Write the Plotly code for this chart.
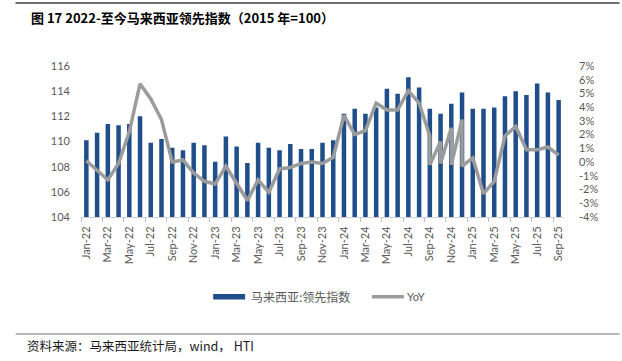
import plotly.graph_objects as go

months = ["Jan-22", "Feb-22", "Mar-22", "Apr-22", "May-22", "Jun-22", "Jul-22", "Aug-22", "Sep-22", "Oct-22", "Nov-22", "Dec-22",
          "Jan-23", "Feb-23", "Mar-23", "Apr-23", "May-23", "Jun-23", "Jul-23", "Aug-23", "Sep-23", "Oct-23", "Nov-23", "Dec-23",
          "Jan-24", "Feb-24", "Mar-24", "Apr-24", "May-24", "Jun-24", "Jul-24", "Aug-24", "Sep-24", "Oct-24", "Nov-24", "Dec-24",
          "Jan-25", "Feb-25", "Mar-25", "Apr-25", "May-25", "Jun-25", "Jul-25", "Aug-25", "Sep-25"]

leading_index = [110.1, 110.7, 111.4, 111.3, 111.4, 112.0, 109.9, 110.2, 109.5, 109.3, 109.9, 109.7,
                 108.4, 110.4, 109.6, 108.3, 109.9, 109.5, 109.3, 109.8, 109.4, 109.4, 109.9, 110.1,
                 112.2, 112.6, 112.2, 112.7, 114.2, 113.8, 115.1, 114.3, 112.6, 112.2, 113.0, 113.9,
                 112.6, 112.6, 112.7, 113.6, 114.0, 113.7, 114.6, 113.9, 113.3]

# YoY series (%); some months carry two readings in the source chart
yoy_x = ["Jan-22", "Feb-22", "Mar-22", "Apr-22", "May-22", "Jun-22", "Jul-22", "Aug-22", "Sep-22", "Oct-22", "Nov-22", "Dec-22",
         "Jan-23", "Feb-23", "Mar-23", "Apr-23", "May-23", "Jun-23", "Jul-23", "Aug-23", "Sep-23", "Oct-23", "Nov-23", "Dec-23",
         "Jan-24", "Feb-24", "Mar-24", "Apr-24", "May-24", "Jun-24", "Jul-24", "Aug-24",
         "Sep-24", "Sep-24", "Oct-24", "Oct-24", "Nov-24", "Nov-24", "Dec-24", "Dec-24",
         "Jan-25", "Feb-25", "Mar-25", "Apr-25", "May-25", "Jun-25", "Jul-25", "Aug-25", "Sep-25"]
yoy_y = [0.1, -0.6, -1.3, -0.1, 2.2, 5.7, 4.6, 3.1, 0.0, 0.15, -0.8, -1.4,
         -1.6, -0.3, -1.5, -2.8, -1.3, -2.2, -0.5, -0.4, -0.1, 0.0, -0.1, 0.35,
         3.4, 2.0, 2.3, 4.3, 3.8, 3.8, 5.2, 4.3,
         1.9, -0.2, 1.5, -0.1, 2.5, -0.2, 3.1, -0.3,
         0.3, -2.3, -1.4, 1.9, 2.6, 0.9, 0.9, 1.1, 0.5]

left_ticks = [104, 106, 108, 110, 112, 114, 116]
right_ticks = [-4, -3, -2, -1, 0, 1, 2, 3, 4, 5, 6, 7]
right_text = [f"{v}%" for v in right_ticks]

title_text = "图 17 2022-至今马来西亚领先指数（2015 年=100）"
source_text = "资料来源：马来西亚统计局，wind， HTI"
bar_name = "马来西亚:领先指数"
line_name = "YoY"

W, H = 622, 361
L, R, T, B = 80.6, 57.6, 66, 144
PW = W - L - R
PH = H - T - B


def px(x):
    return (x - L) / PW


def py(y):
    return (H - B - y) / PH


BLUE = "#1f4e8a"
GRAY = "#9b9b9b"
TXT = "#595959"

fig = go.Figure()
fig.add_trace(go.Bar(x=months, y=leading_index, name=bar_name, marker_color=BLUE,
                     marker_line_width=0, width=0.42, yaxis="y"))
fig.add_trace(go.Scatter(x=yoy_x, y=yoy_y, name=line_name, mode="lines",
                         line=dict(color=GRAY, width=3.5), yaxis="y2"))

fig.update_layout(
    width=W, height=H,
    margin=dict(l=L, r=R, t=T, b=B, pad=0),
    paper_bgcolor="white", plot_bgcolor="white",
    showlegend=False,
    font=dict(family="Lato", size=11, color=TXT),
    xaxis=dict(type="category", categoryorder="array", categoryarray=months,
               range=[-0.5, len(months) - 0.5],
               tickmode="linear", tick0=0, dtick=2, tickangle=-90,
               tickson="boundaries", ticks="outside", ticklen=4, tickcolor="#bfbfbf",
               showline=True, linecolor="#d0d0d0", linewidth=1,
               showgrid=False, ticklabelstandoff=4, automargin=False,
               tickfont=dict(family="Lato", size=11, color=TXT)),
    yaxis=dict(range=[104, 116], tickvals=left_ticks, showgrid=False, zeroline=False,
               showline=False, ticks="", ticklabelstandoff=10, automargin=False,
               tickfont=dict(family="Lato", size=11, color=TXT)),
    yaxis2=dict(range=[-4, 7], tickvals=right_ticks, ticktext=right_text, overlaying="y", side="right",
                showgrid=False, zeroline=False, showline=False, ticks="", ticklabelstandoff=14,
                automargin=False,
                tickfont=dict(family="Lato", size=11, color=TXT)),
    bargap=0.5,
)

shapes = [
    dict(type="rect", xref="paper", yref="paper", x0=px(15), x1=px(620), y0=py(4), y1=py(2),
         fillcolor="#6f6f6f", line=dict(width=0), layer="above"),
    dict(type="line", xref="paper", yref="paper", x0=px(15), x1=px(620), y0=py(334), y1=py(334),
         line=dict(color="#9f9f9f", width=1.5)),
    dict(type="rect", xref="paper", yref="paper", x0=px(213), x1=px(245), y0=py(299.5), y1=py(294),
         fillcolor=BLUE, line=dict(width=0)),
    dict(type="line", xref="paper", yref="paper", x0=px(372), x1=px(404), y0=py(296.7), y1=py(296.7),
         line=dict(color=GRAY, width=3.5)),
]
annotations = [
    dict(text=f"<b>{title_text}</b>", xref="paper", yref="paper", x=px(29), y=py(18),
         xanchor="left", yanchor="middle", showarrow=False,
         font=dict(family="Noto Sans CJK SC", size=13, color="#000000")),
    dict(text=source_text, xref="paper", yref="paper", x=px(25), y=py(345),
         xanchor="left", yanchor="middle", showarrow=False,
         font=dict(family="Noto Sans CJK SC", size=12.5, color="#1a1a1a")),
    dict(text=bar_name, xref="paper", yref="paper", x=px(249), y=py(296.7),
         xanchor="left", yanchor="middle", showarrow=False,
         font=dict(family="Noto Sans CJK SC", size=12, color=TXT)),
    dict(text=line_name, xref="paper", yref="paper", x=px(405), y=py(296.7),
         xanchor="left", yanchor="middle", showarrow=False,
         font=dict(family="Lato", size=11, color=TXT)),
]
fig.update_layout(shapes=shapes, annotations=annotations)

fig.write_html("out.html", config={"displayModeBar": False},
               post_script="document.body.style.margin='0';document.body.style.overflow='hidden';")
